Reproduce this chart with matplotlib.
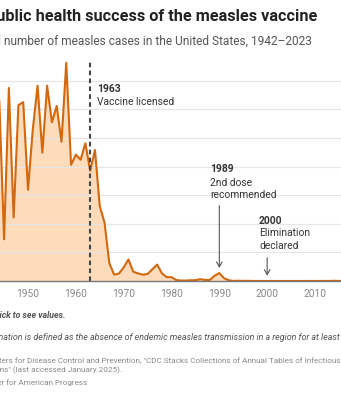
import matplotlib.pyplot as plt

plt.rcParams["font.family"] = ["Roboto", "DejaVu Sans"]

# Reported measles cases in the United States, 1942-2023
years = list(range(1942, 2024))
cases = [
    534217, 633014, 630423, 146013, 675000, 222375, 615104, 625281,
    319124, 530118, 683077, 449146, 682720, 555156, 611936, 486799,
    763094, 406162, 441703, 423919, 481530, 385156, 458083, 261904,
    204136, 62705, 22231, 25826, 47351, 75290, 32275, 26690,
    22094, 24374, 41126, 57345, 26871, 13597, 13506, 3124,
    1714, 1497, 2587, 2822, 6282, 3655, 3396, 18193,
    27786, 9643, 2237, 312, 963, 309, 508, 138,
    100, 100, 86, 116, 44, 56, 37, 66,
    55, 43, 140, 71, 63, 220, 55, 187,
    667, 188, 86, 120, 375, 1274, 13, 49,
    121, 59,
]

tick_years = [1950, 1960, 1970, 1980, 1990, 2000, 2010]
grid_values = [100000, 200000, 300000, 400000, 500000, 600000, 700000]

vaccine_year = 1963
dose_year = 1990
elimination_year = 2000

line_color = "#d4680f"
fill_color = "#fddbbb"

W, H = 341, 400
fig = plt.figure(figsize=(W / 100, H / 100), dpi=100)

# axes run past the figure edges on both sides
x_left_px = 28 - 8 * 4.783
x_width_px = 81 * 4.783
y_bottom_px = 281
y_height_px = 8 * 28.6
ax = fig.add_axes([x_left_px / W, (H - y_bottom_px) / H, x_width_px / W, y_height_px / H])

ax.fill_between(years, cases, 0, color=fill_color, lw=0, zorder=1)
ax.plot(years, cases, color=line_color, lw=1.5, zorder=3)

ax.set_xlim(1942, 2023)
ax.set_ylim(0, 800000)
ax.set_yticks(grid_values)
ax.set_yticklabels([])
ax.tick_params(axis="y", length=0)
ax.set_xticks(tick_years)
ax.set_xticklabels([str(y) for y in tick_years], color="#8a8a8a", fontsize=7.3)
ax.tick_params(axis="x", length=0, pad=6)
ax.grid(axis="y", color="#e6e6e6", lw=0.8, zorder=0)
for side in ["top", "right", "left"]:
    ax.spines[side].set_visible(False)
ax.spines["bottom"].set_color("#777777")
ax.spines["bottom"].set_linewidth(1.0)
ax.spines["bottom"].set_zorder(4)

note_size = 7.4

# vaccine licensed marker
ax.plot([vaccine_year, vaccine_year], [0, 773000], color="#444444", lw=1.5,
        ls=(0, (2.2, 1.6)), zorder=4)
ax.text(1964.4, 671000, "1963", fontsize=note_size, fontweight="bold", color="#333333", va="center")
ax.text(1964.4, 626000, "Vaccine licensed", fontsize=note_size, color="#333333", va="center")

# second dose annotation
ax.text(1988.1, 392000, "1989", fontsize=note_size, fontweight="bold", color="#333333", va="center")
ax.text(1988.1, 343000, "2nd dose", fontsize=note_size, color="#333333", va="center")
ax.text(1988.1, 301000, "recommended", fontsize=note_size, color="#333333", va="center")
ax.annotate("", xy=(dose_year, 36000), xytext=(dose_year, 273000),
            arrowprops={"arrowstyle": "->,head_length=0.35,head_width=0.2", "lw": 0.8, "color": "#555555"})

# elimination annotation
ax.text(1998.3, 210000, "2000", fontsize=note_size, fontweight="bold", color="#333333", va="center")
ax.text(1998.3, 168000, "Elimination", fontsize=note_size, color="#333333", va="center")
ax.text(1998.3, 122000, "declared", fontsize=note_size, color="#333333", va="center")
ax.annotate("", xy=(elimination_year, 9000), xytext=(elimination_year, 91000),
            arrowprops={"arrowstyle": "->,head_length=0.35,head_width=0.2", "lw": 0.8, "color": "#555555"})


def px(x, y):
    return x / W, 1 - y / H


# header
fig.text(*px(317, 17), "The public health success of the measles vaccine", ha="right", va="center",
         fontsize=11.7, fontweight="bold", color="#222222")
fig.text(*px(312, 42), "Reported number of measles cases in the United States, 1942\u20132023",
         ha="right", va="center", fontsize=8.6, color="#555555")

# notes and source
fig.text(*px(66, 316), "Hover or click to see values.", ha="right", va="center",
         fontsize=6.3, fontweight="bold", style="italic", color="#555555")
fig.text(*px(340, 337), "*Elimination is defined as the absence of endemic measles transmission in a region for at least",
         ha="right", va="center", fontsize=6.4, style="italic", color="#555555")
fig.text(*px(341, 337), " 12 months.", ha="left", va="center", fontsize=6.4, style="italic", color="#555555")
fig.text(*px(340, 361), "Source: Centers for Disease Control and Prevention, \"CDC Stacks Collections of Annual Tables of Infectious",
         ha="right", va="center", fontsize=5.9, color="#8a8a8a")
fig.text(*px(122, 370), "Diseases and Conditions\" (last accessed January 2025).",
         ha="right", va="center", fontsize=5.9, color="#8a8a8a")
fig.text(*px(87, 383), "Chart: Center for American Progress",
         ha="right", va="center", fontsize=5.9, color="#8a8a8a")

fig.savefig("out.png", dpi=100)
